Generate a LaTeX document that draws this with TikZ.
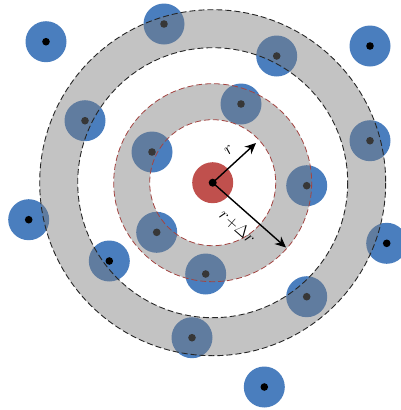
\documentclass[tikz,border=0pt]{standalone}
\usetikzlibrary{arrows.meta}
\definecolor{pblue}{RGB}{74,126,190}
\definecolor{pred}{RGB}{192,80,77}
\definecolor{shell}{RGB}{123,123,123}
\begin{document}
\begin{tikzpicture}[x=1pt,y=-1pt,
  particle/.style={circle,fill=pblue,inner sep=0pt,minimum size=41pt},
  centre/.style={circle,fill=pred,inner sep=0pt,minimum size=41pt},
  shellfill/.style={fill=shell,fill opacity=0.45,even odd rule},
  blackring/.style={draw=black!85,line width=0.9pt,dash pattern=on 6pt off 3pt},
  redring/.style={draw=pred!85!black,line width=0.8pt,dash pattern=on 6pt off 3pt},
  arr/.style={draw=black,line width=1.4pt,-{Stealth[length=11pt,width=10pt]}},
  lbl/.style={inner sep=0pt,font=\fontsize{17}{19}\selectfont}]
\useasboundingbox (0,0) rectangle (401,410);
% particles (under the shells)
\foreach \n/\x/\y in {1/46/41.7,2/164/24,3/276.7/56,4/370/46,5/85/120.7,6/241/104,
  7/152/152,8/370/140.7,9/306.7/185.7,10/28.7/219.7,11/156.7/232.3,12/109.3/261,
  13/205.7/274,14/386.7/243.3,15/306.7/296.7,16/192/337.7,17/264.3/387}{
  \node[particle] (p\n) at (\x,\y) {};
  \fill[black] (p\n.center) circle (3.8);
}
% centre particle
\node[centre] (c) at (212.7,182.7) {};
% shells
\fill[shellfill] (c.center) circle (173) (c.center) circle (135);
\fill[shellfill] (c.center) circle (99) (c.center) circle (63);
\draw[blackring] (c.center) circle (173);
\draw[blackring] (c.center) circle (135);
\draw[redring] (c.center) circle (99);
\draw[redring] (c.center) circle (63);
\fill[black] (c.center) circle (4);
% radii
\coordinate (ta) at (256,143);
\coordinate (tb) at (286,247.5);
\draw[arr] (c.center) -- (ta);
\draw[arr] (c.center) -- (tb);
\node[lbl,rotate=43] (lr) at (229,150) {$r$};
\node[lbl,rotate=-41] (ldr) at (237.5,226.5) {$r{+}\Delta r$};
\end{tikzpicture}
\end{document}
